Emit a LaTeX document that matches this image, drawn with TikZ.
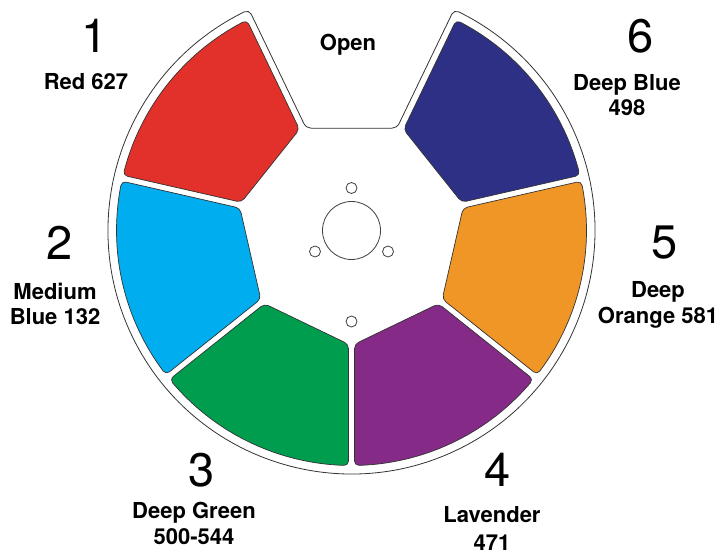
\documentclass[tikz,border=0pt]{standalone}
\usepackage{fontspec}
\setmainfont{TeX Gyre Heros}
\tikzset{
  big/.style={inner sep=0pt,font=\fontsize{47}{47}\selectfont},
  lab/.style={inner sep=0pt,align=center,font=\fontsize{22}{25.8}\selectfont\bfseries},
  hole/.style={draw=black!75,line width=0.8pt,fill=white},
  plate/.style={draw=black!80,line width=0.8pt,fill=white},
  seg/.style={draw=black!80,line width=0.7pt,fill=#1}
}
\definecolor{cRed}{HTML}{E1312A}
\definecolor{cBlue}{HTML}{00ADEF}
\definecolor{cGreen}{HTML}{009D4F}
\definecolor{cPurple}{HTML}{852A87}
\definecolor{cOrange}{HTML}{EF9627}
\definecolor{cNavy}{HTML}{2E3085}
\newcommand{\wedgeseg}[2]{%
  \path[rotate=#1,seg=#2]
    (103.74,0) -- (103.74,42.13)
    .. controls (103.74,44.6) and (105.56,47.51) .. (107.79,48.58)
    -- (208.98,97.31)
    .. controls (211.2,98.38) and (213.84,97.44) .. (214.85,95.21)
    arc[start angle=23.9,end angle=-23.9,radius=235]
    .. controls (213.84,-97.44) and (211.2,-98.38) .. (208.98,-97.31)
    -- (107.79,-48.58)
    .. controls (105.56,-47.51) and (103.74,-44.6) .. (103.74,-42.13)
    -- cycle;}
\begin{document}
\begin{tikzpicture}[x=1pt,y=1pt]
\useasboundingbox (0,0) rectangle (719,552);
\begin{scope}[shift={(351.5,321.5)}]
  \path[plate]
    (-40,102.2) .. controls (-42.9,102.2) and (-46.28,104.2) .. (-47.47,106.7)
    -- (-100.33,216.4)
    .. controls (-101.52,218.9) and (-104.58,219.9) .. (-107.13,218.67)
    arc[start angle=116.1,end angle=423.9,radius=243.5]
    .. controls (104.58,219.9) and (101.52,218.9) .. (100.33,216.4)
    -- (47.47,106.7)
    .. controls (46.28,104.2) and (42.9,102.2) .. (40,102.2)
    -- cycle;
  \wedgeseg{141.43}{cRed}
  \wedgeseg{192.857}{cBlue}
  \wedgeseg{244.286}{cGreen}
  \wedgeseg{295.714}{cPurple}
  \wedgeseg{347.143}{cOrange}
  \wedgeseg{38.57}{cNavy}
  \path[hole] (0,0) circle[radius=29];
  \path[hole] (0,42.5) circle[radius=5.5];
  \path[hole] (-36.5,-21) circle[radius=5.5];
  \path[hole] (36.5,-21) circle[radius=5.5];
  \path[hole] (0,-91) circle[radius=5.5];
\end{scope}
\node[big] (n1) at (95,516) {1};
\node[big] (n2) at (60,309) {2};
\node[big] (n3) at (202,82) {3};
\node[big] (n4) at (498,82) {4};
\node[big] (n5) at (665,309) {5};
\node[big] (n6) at (641,516) {6};
\node[lab] (l1) at (86,470) {Red 627};
\node[lab] (l0) at (348,507.5) {Open};
\node[lab] (l6) at (627,457) {Deep Blue\\498};
\node[lab] (l2) at (55,248) {Medium\\Blue 132};
\node[lab] (l5) at (658,247.5) {Deep\\Orange 581};
\node[lab] (l3) at (194,28.5) {Deep Green\\500-544};
\node[lab] (l4) at (492,23.5) {Lavender\\[1.7pt]471};
\end{tikzpicture}
\end{document}
